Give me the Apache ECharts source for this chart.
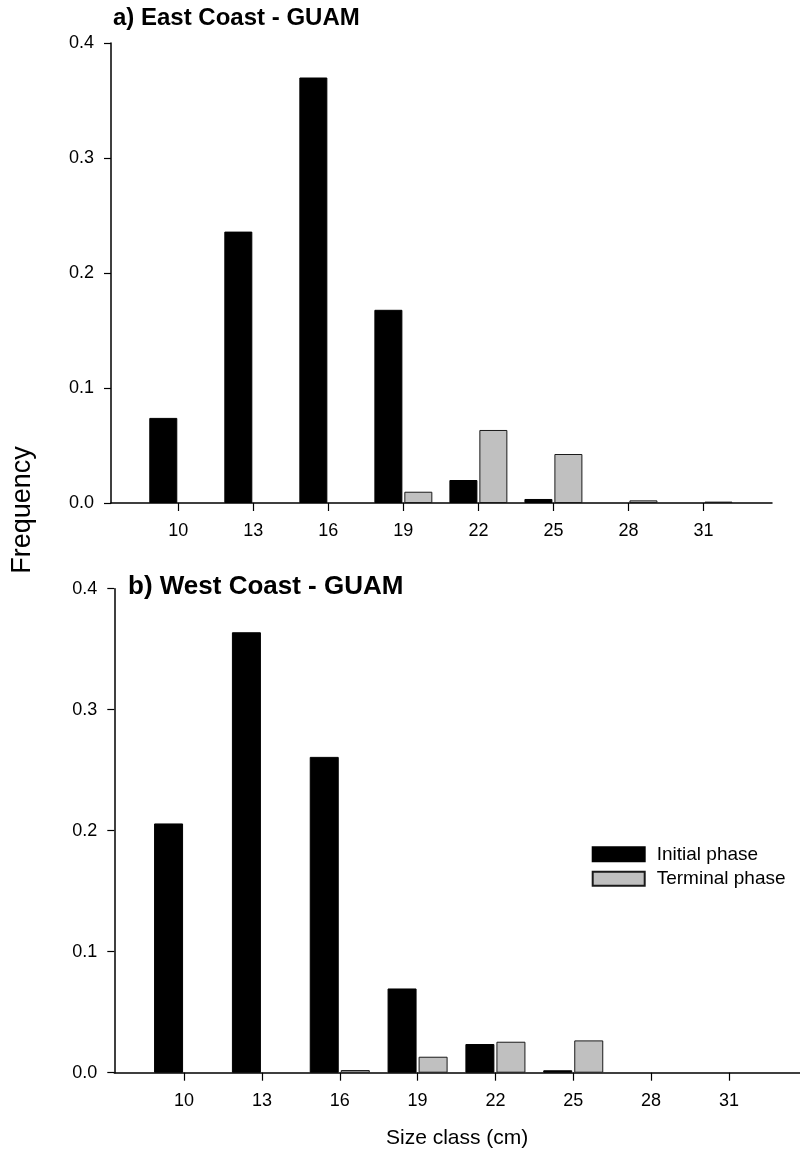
<!DOCTYPE html>
<html>
<head>
<meta charset="utf-8">
<script src="https://cdn.jsdelivr.net/npm/echarts@6/dist/echarts.min.js"></script>
<style>
html,body{margin:0;padding:0;background:#fff;}
#chart{width:800px;height:1157px;}
</style>
</head>
<body>
<div id="chart"></div>
<script>
// ---- data ----
const sizeClasses = [10, 13, 16, 19, 22, 25, 28, 31];
const eastInitial  = [0.074, 0.236, 0.370, 0.168, 0.020, 0.0035, 0, 0];
const eastTerminal = [0, 0, 0, 0.0098, 0.0635, 0.0426, 0.0023, 0.0012];
const westInitial  = [0.206, 0.364, 0.261, 0.0696, 0.0237, 0.002, 0, 0];
const westTerminal = [0, 0, 0.0022, 0.0132, 0.0256, 0.0267, 0, 0];
const yTicks = [0, 0.1, 0.2, 0.3, 0.4];
const titleA = 'a) East Coast - GUAM';
const titleB = 'b) West Coast - GUAM';
const seriesNames = ['Initial phase', 'Terminal phase'];

const FONT = 'Liberation Sans, Arial, Helvetica, sans-serif';
// zero-frequency classes are left empty (no visible bar in the reference)
const pairs = (arr) => sizeClasses.map((c, i) => [c, arr[i] === 0 ? '-' : arr[i]]);

function xAxis(gridIndex, name) {
  return {
    type: 'value', gridIndex: gridIndex, min: 7.31, max: 33.74,
    name: name || '', nameLocation: 'middle', nameGap: 55,
    nameTextStyle: { fontFamily: FONT, fontSize: 21, color: '#000' },
    axisLine: { show: true, onZero: false, lineStyle: { color: '#000', width: 1.5 } },
    axisTick: { show: true, inside: false, length: 8, customValues: sizeClasses, lineStyle: { color: '#000', width: 1.2 } },
    axisLabel: { customValues: sizeClasses, margin: 19, fontFamily: FONT, fontSize: 18, color: '#000' },
    splitLine: { show: false }
  };
}
function yAxis(gridIndex) {
  return {
    type: 'value', gridIndex: gridIndex, min: yTicks[0], max: yTicks[yTicks.length - 1], interval: 0.1,
    axisLine: { show: true, lineStyle: { color: '#000', width: 1.5 } },
    axisTick: { show: true, inside: false, length: 7, lineStyle: { color: '#000', width: 1.2 } },
    axisLabel: { margin: 17, fontFamily: FONT, fontSize: 18, color: '#000', formatter: v => v.toFixed(1) },
    splitLine: { show: false }
  };
}
function bars(name, data, xi, color, border, bw) {
  return {
    type: 'bar', name: name, xAxisIndex: xi, yAxisIndex: xi,
    data: pairs(data), barWidth: bw, barGap: '7%',
    itemStyle: { color: color, borderColor: border, borderWidth: 1 },
    emphasis: { disabled: true }
  };
}

const chart = echarts.init(document.getElementById('chart'), null, { renderer: 'canvas' });
chart.setOption({
  animation: false,
  backgroundColor: '#fff',
  title: [
    { text: titleA, left: 113, top: 6, padding: 0, textStyle: { fontFamily: FONT, fontSize: 24, fontWeight: 'bold', color: '#000' } },
    { text: titleB, left: 128, top: 574, padding: 0, textStyle: { fontFamily: FONT, fontSize: 26, fontWeight: 'bold', color: '#000' } }
  ],
  legend: {
    data: seriesNames, orient: 'vertical', left: 591.7, top: 844.8, padding: 0,
    icon: 'rect',
    itemWidth: 52, itemHeight: 14, itemGap: 5.4, selectedMode: false,
    textStyle: { fontFamily: FONT, fontSize: 19, color: '#000', lineHeight: 19, padding: [0, 0, 0, 7] }
  },
  graphic: [
    { type: 'text', x: 23, y: 510, rotation: Math.PI / 2,
      style: { text: 'Frequency', fontFamily: FONT, fontSize: 27, fill: '#000', align: 'center', verticalAlign: 'middle' } }
  ],
  grid: [
    { left: 111, top: 43, width: 661, height: 460 },
    { left: 114.3, top: 588.7, width: 695, height: 484 }
  ],
  xAxis: [xAxis(0), xAxis(1, 'Size class (cm)')],
  yAxis: [yAxis(0), yAxis(1)],
  series: [
    bars(seriesNames[0], eastInitial, 0, '#000', '#000', 28),
    bars(seriesNames[1], eastTerminal, 0, '#c0c0c0', '#1a1a1a', 28),
    bars(seriesNames[0], westInitial, 1, '#000', '#000', 29),
    bars(seriesNames[1], westTerminal, 1, '#c0c0c0', '#1a1a1a', 29)
  ]
});
</script>
</body>
</html>
